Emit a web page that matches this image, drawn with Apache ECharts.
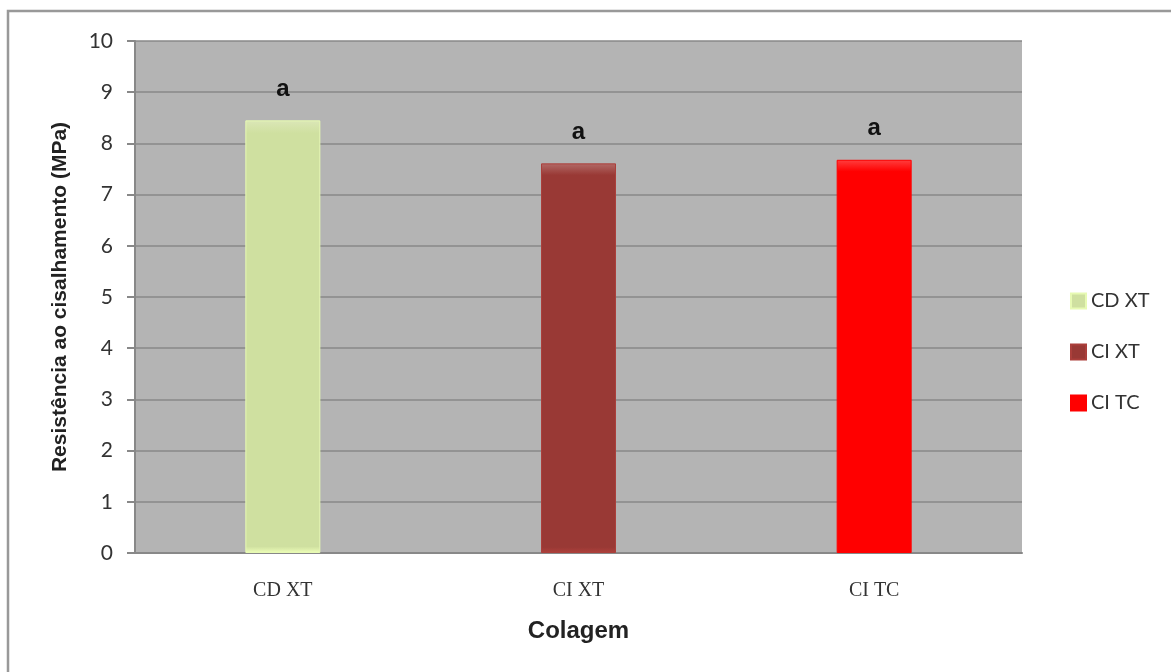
<!DOCTYPE html>
<html>
<head>
<meta charset="utf-8">
<script src="https://cdn.jsdelivr.net/npm/echarts@6/dist/echarts.min.js"></script>
<style>
  html, body { margin: 0; padding: 0; background: #fff; }
  #chart { width: 1171px; height: 672px; }
</style>
</head>
<body>
<div id="chart"></div>
<script>
// Shear bond strength by bonding group
const categories = ['CD XT', 'CI XT', 'CI TC'];
const seriesNames = ['CD XT', 'CI XT', 'CI TC'];
const values = [8.45, 7.61, 7.68];
const letters = ['a', 'a', 'a'];
const barColors = ['#cfe0a0', '#993935', '#ff0000'];
const yTicks = [0, 1, 2, 3, 4, 5, 6, 7, 8, 9, 10];

function bevel(c) {
  return {
    type: 'linear', x: 0, y: 0, x2: 0, y2: 1,
    colorStops: [
      { offset: 0, color: echarts.color.lift(c, 0.25) },
      { offset: 0.03, color: c },
      { offset: 0.985, color: c },
      { offset: 1, color: echarts.color.lift(c, -0.15) }
    ]
  };
}

const series = seriesNames.map((name, i) => ({
  name: name,
  type: 'bar',
  barWidth: 75,
  barGap: '-100%',
  data: categories.map((c, j) => j === i ? values[i] : '-'),
  itemStyle: {
    color: bevel(barColors[i]),
    borderColor: echarts.color.lift(barColors[i], -0.12),
    borderWidth: 1
  },
  label: {
    show: true,
    position: 'top',
    distance: 19,
    formatter: () => letters[i],
    fontFamily: 'Liberation Sans, Arial, sans-serif',
    fontWeight: 'bold',
    fontSize: 24,
    color: '#111'
  }
}));

const chart = echarts.init(document.getElementById('chart'));
chart.setOption({
  animation: false,
  backgroundColor: '#fff',
  graphic: [{
    type: 'rect',
    shape: { x: 8, y: 11, width: 1200, height: 700 },
    style: { fill: 'none', stroke: '#999', lineWidth: 2.5 },
    silent: true, z: -1
  }],
  grid: {
    left: 135, right: 149, top: 41, bottom: 119,
    show: true, backgroundColor: '#b4b4b4', borderWidth: 0
  },
  legend: {
    orient: 'vertical',
    left: 1065, top: 286,
    itemWidth: 15, itemHeight: 15, itemGap: 31,
    icon: 'rect',
    textStyle: { fontFamily: 'Lato, sans-serif', fontSize: 20, color: '#333', padding: [0, 0, 0, 0] },
    data: seriesNames
  },
  xAxis: {
    type: 'category',
    data: categories,
    name: 'Colagem',
    nameLocation: 'middle',
    nameGap: 66,
    nameTextStyle: { fontFamily: 'Liberation Sans, Arial, sans-serif', fontWeight: 'bold', fontSize: 24, color: '#222' },
    axisLine: { lineStyle: { color: '#888', width: 2 } },
    axisTick: { show: false },
    axisLabel: { margin: 28, fontFamily: 'Liberation Serif, serif', fontSize: 20, color: '#333' }
  },
  yAxis: {
    type: 'value',
    min: 0, max: 10, interval: 1,
    name: 'Resistência ao cisalhamento (MPa)',
    nameLocation: 'middle',
    nameGap: 64,
    nameRotate: 90,
    nameTextStyle: { fontFamily: 'Liberation Sans, Arial, sans-serif', fontWeight: 'bold', fontSize: 21, color: '#222' },
    axisLine: { show: true, lineStyle: { color: '#888', width: 2 } },
    axisTick: { show: true, length: 8, lineStyle: { color: '#888', width: 2 } },
    axisLabel: {
      margin: 22,
      fontFamily: 'Lato, sans-serif', fontSize: 21, color: '#333',
      formatter: v => yTicks.includes(v) ? String(v) : ''
    },
    splitLine: { lineStyle: { color: '#888', width: 1.5 } }
  },
  series: series
});
</script>
</body>
</html>
